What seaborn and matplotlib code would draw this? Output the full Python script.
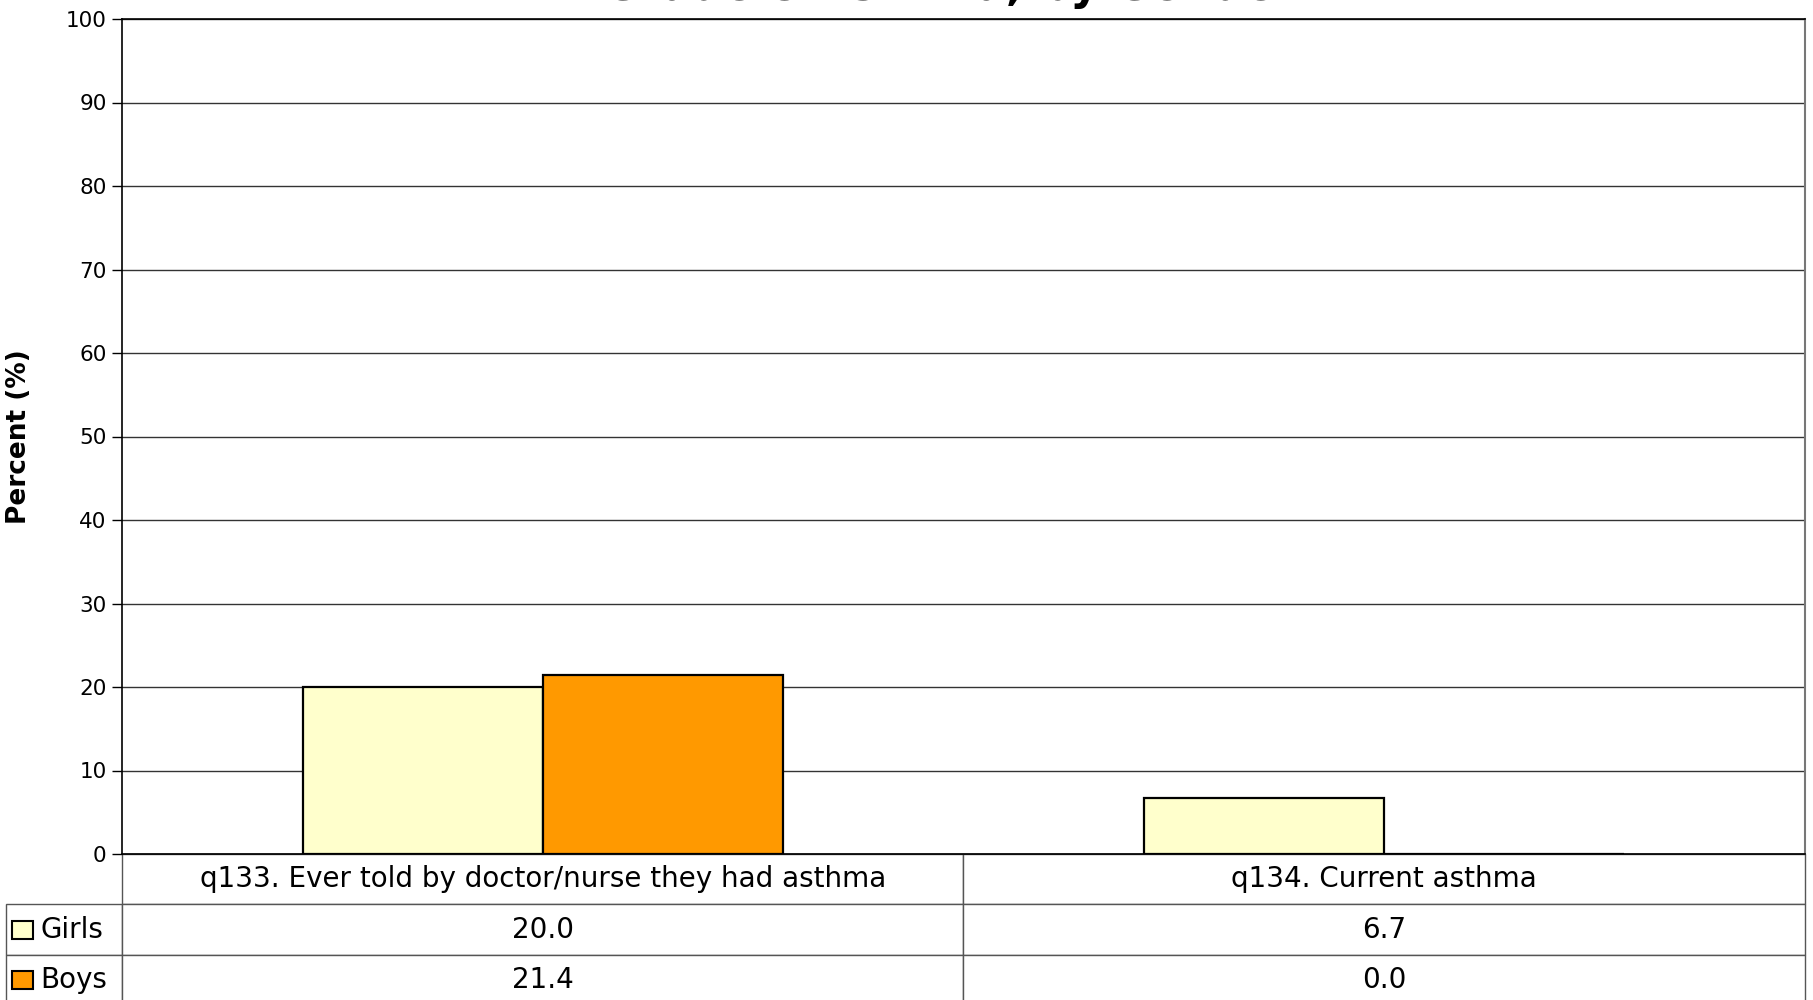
import matplotlib
matplotlib.use("Agg")
import matplotlib.pyplot as plt
from matplotlib.patches import Rectangle
import seaborn as sns
import pandas as pd

### Chart data ###
categories = ["q133. Ever told by doctor/nurse they had asthma", "q134. Current asthma"]
groups = ["Girls", "Boys"]
girls = [20.0, 6.7]
boys = [21.4, 0.0]
colors = ["#FFFFCC", "#FF9900"]
yticks = [0, 10, 20, 30, 40, 50, 60, 70, 80, 90, 100]
title = "Grade 8 Asthma, by Gender"

df = pd.DataFrame({
    "category": categories * 2,
    "group": [groups[0]] * len(girls) + [groups[1]] * len(boys),
    "value": girls + boys,
})

sns.set_theme(style="white")
plt.rcParams["font.family"] = ["DejaVu Sans"]
plt.rcParams["text.color"] = "black"

### Layout (pixels of a 1813x1000 figure) ###
W, H = 1813, 1000
ax_l, ax_r, ax_t, ax_b = 122, 1805, 19, 854
fig = plt.figure(figsize=(W / 100, H / 100), dpi=100)
ax = fig.add_axes([ax_l / W, 1 - ax_b / H, (ax_r - ax_l) / W, (ax_b - ax_t) / H])

sns.barplot(data=df, x="category", y="value", hue="group", hue_order=groups,
            palette=colors, width=0.57, edgecolor="black", linewidth=1.6,
            saturation=1, legend=False, ax=ax, zorder=3)

ax.set_xlim(-0.5, len(categories) - 0.5)
ax.set_ylim(0, 100)
ax.set_yticks(yticks)
ax.set_yticklabels([str(t) for t in yticks], fontsize=15.5, color="black")
ax.tick_params(axis="y", direction="out", length=7, width=1, color="black", pad=4, left=True)
ax.set_xticks([])
ax.set_xlabel("")
ax.yaxis.grid(True, color="#333333", linewidth=1, zorder=0)
ax.set_axisbelow(True)

ax.set_ylabel("Percent (%)", fontsize=19, fontweight="bold", color="black")
ax.yaxis.set_label_coords((32 - ax_l) / (ax_r - ax_l), 0.5)

for side in ["left", "bottom", "top"]:
    ax.spines[side].set_color("black")
    ax.spines[side].set_linewidth(1.2)
ax.spines["right"].set_color("#777777")
ax.spines["right"].set_linewidth(1.5)

# title sits mostly above the top edge, as in the source image
fig.text(950 / W, 1.0, title, ha="center", va="baseline",
         fontsize=32, fontweight="bold")

### Data table under the plot ###
ax_w = ax_r - ax_l
ax_h = ax_b - ax_t
lab_px = ax_l - 6
tab_px = 151
cell_text = [[g] + [f"{v:.1f}" for v in vals] for g, vals in zip(groups, [girls, boys])]
col_w = [lab_px, ax_w / 2, ax_w / 2]
tbl = ax.table(cellText=cell_text, colLabels=[""] + categories, cellLoc="center",
               colLoc="center", colWidths=[w / ax_w for w in col_w],
               bbox=[-lab_px / ax_w, -tab_px / ax_h, 1 + lab_px / ax_w, tab_px / ax_h])
tbl.auto_set_font_size(False)
tbl.set_fontsize(20)
for (r, c), cell in tbl.get_celld().items():
    cell.set_edgecolor("#555555")
    cell.set_linewidth(1)
    cell.set_clip_on(False)
    cell.get_text().set_color("black")
    if c == 0:
        cell.PAD = 34 / lab_px
        cell.get_text().set_ha("left")
        cell._loc = "left"
tbl[(0, 0)].visible_edges = ""

# legend keys in the row labels
row_h = tab_px / 3
for i, col in enumerate(colors):
    cy = ax_b + row_h * (i + 1.5)
    ax.add_patch(Rectangle(((12 - ax_l) / ax_w, (ax_b - cy - 9) / ax_h), 21 / ax_w, 18 / ax_h,
                           transform=ax.transAxes, facecolor=col, edgecolor="black",
                           linewidth=1.5, clip_on=False, zorder=5))

plt.savefig("out.png", dpi=100)
